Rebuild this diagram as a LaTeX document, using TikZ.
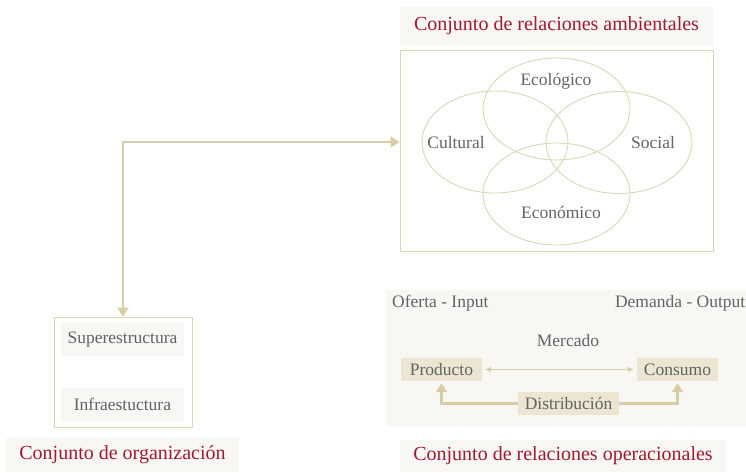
\documentclass[tikz,border=0pt]{standalone}
\usepackage{fontspec}
\setmainfont{Liberation Serif}
\usetikzlibrary{arrows.meta}

\definecolor{txtgray}{HTML}{626463}
\definecolor{titlered}{HTML}{9E1A32}
\definecolor{tan}{HTML}{D8CEA6}
\definecolor{frametan}{HTML}{DDD5B6}
\definecolor{cream}{HTML}{F9F7F3}
\definecolor{labelfill}{HTML}{EBE5D1}

\tikzset{
  titlebox/.style={fill=cream,text=titlered,font=\fontsize{20}{23}\selectfont,inner sep=0pt},
  frame/.style={draw=frametan,line width=0.9pt,inner sep=0pt},
  label/.style={text=txtgray,font=\fontsize{17.5}{20}\selectfont,inner sep=0pt},
  tag/.style={label,fill=labelfill,inner sep=0pt},
  ring/.style={draw=frametan,line width=0.9pt},
  link/.style={draw=tan,line width=2.8pt},
}

\begin{document}
\begin{tikzpicture}[x=1pt,y=-1pt]
        \useasboundingbox (0,0) rectangle (746,472);

        % Titles
        \node[titlebox,minimum width=313pt,minimum height=38pt] (ambtitle) at (556.5,26) {Conjunto de relaciones ambientales};
        \node[titlebox,minimum width=233pt,minimum height=34pt] (orgtitle) at (122.5,455) {Conjunto de organización};
        \node[titlebox,minimum width=326pt,minimum height=32pt] (optitle) at (563,456) {Conjunto de relaciones operacionales};

        % Ambient frame and ellipses
        \node[frame,minimum width=313pt,minimum height=201pt] (amb) at (556.5,150.5) {};
        \draw[ring] (495,142) ellipse [x radius=73,y radius=51];
        \draw[ring] (556.5,109) ellipse [x radius=73.5,y radius=51];
        \draw[ring] (619,142.5) ellipse [x radius=73,y radius=51];
        \draw[ring] (556.5,194) ellipse [x radius=73.5,y radius=51];
        \node[label] (eco) at (556,81) {Ecológico};
        \node[label] (cult) at (456,143) {Cultural};
        \node[label] (soc) at (653,143) {Social};
        \node[label] (econ) at (561,212) {Económico};

        % Organization box
        \node[frame,minimum width=138pt,minimum height=110pt] (org) at (123,372) {};
        \node[label,fill=cream,minimum width=123pt,minimum height=33pt] (super) at (122.5,339.5) {Superestructura};
        \node[label,fill=cream,minimum width=123pt,minimum height=33pt] (infra) at (122.5,404.5) {Infraestuctura};

        % Link between the two sets
        \draw[link,{Triangle[width=11pt,length=9pt]}-{Triangle[width=11pt,length=9pt]}]
            (org.north) |- ([yshift=8.5pt]amb.west);

        % Operational relations
        \fill[cream] (386,290) rectangle (746,426);
        \node[label,anchor=west] (input) at (392,303) {Oferta - Input};
        \node[label,anchor=east] (output) at (745.5,303) {Demanda - Output};
        \node[label] (market) at (568,341) {Mercado};
        \node[tag,minimum width=81pt,minimum height=23pt] (prod) at (441.5,369.5) {Producto};
        \node[tag,minimum width=81pt,minimum height=23pt] (cons) at (677.5,369.5) {Consumo};
        \node[tag,minimum width=101pt,minimum height=23pt] (dist) at (568.5,403.5) {Distribución};
        \draw[draw=tan,line width=1.2pt,{Latex[width=6pt,length=6pt]}-{Latex[width=6pt,length=6pt]}]
            ([xshift=3pt]prod.east) -- ([xshift=-3pt]cons.west);
        \draw[link,-{Triangle[width=11pt,length=9pt]}] (dist.west) -| ([yshift=-2pt]prod.south);
        \draw[link,-{Triangle[width=11pt,length=9pt]}] (dist.east) -| ([yshift=-2pt]cons.south);
\end{tikzpicture}
\end{document}
